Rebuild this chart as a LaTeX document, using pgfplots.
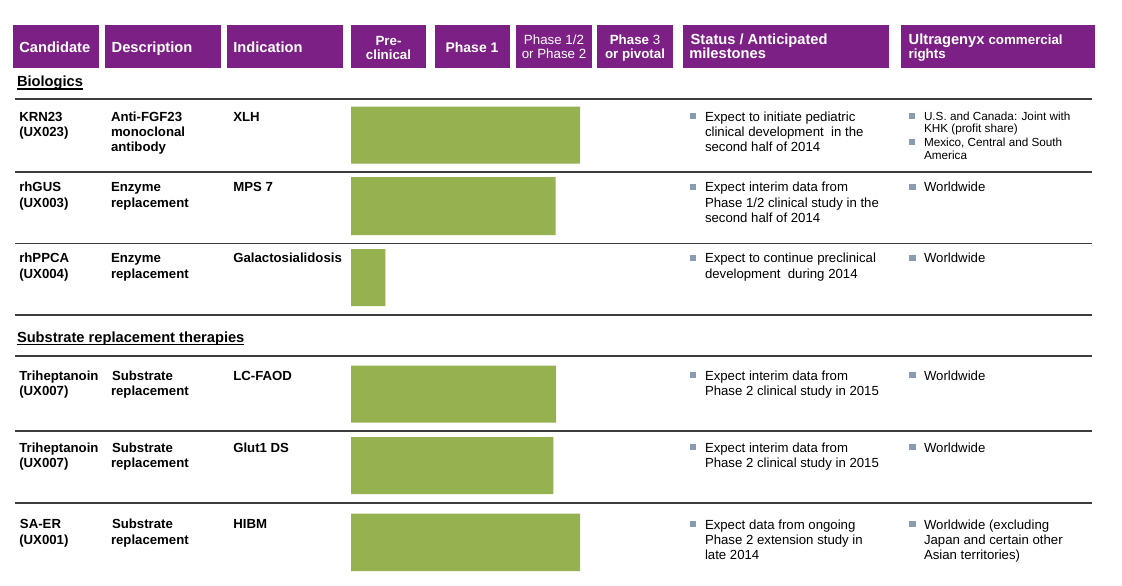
\documentclass[border=0pt]{standalone}
\usepackage{fontspec}
\setmainfont{Liberation Sans}
\usepackage{pgfplots}
\pgfplotsset{compat=1.18}
\definecolor{uxpurple}{RGB}{125,32,133}
\definecolor{uxgreen}{RGB}{150,177,80}
\definecolor{bul}{RGB}{138,156,178}
\definecolor{rulec}{RGB}{60,60,60}
\newcommand\fb{\fontsize{9.9}{11}\selectfont\bfseries}
\newcommand\fr{\fontsize{9.9}{11}\selectfont}
\newcommand\fs{\fontsize{8.8}{10}\selectfont}
\newcommand\fh{\fontsize{11}{12}\selectfont\bfseries}
\newcommand\fhs{\fontsize{10}{11}\selectfont\bfseries}
\newcommand\fhr{\fontsize{10}{11}\selectfont}
\tikzset{
  tl/.style={anchor=base west, inner sep=0pt, outer sep=0pt},
  tc/.style={anchor=base, inner sep=0pt, outer sep=0pt},
  hd/.style={text=white},
}
\begin{document}
\begin{tikzpicture}
\begin{axis}[scale only axis, width=841.5pt, height=439.5pt,
  xmin=0, xmax=1122, ymin=0, ymax=586, y dir=reverse,
  axis lines=none, ticks=none, clip=false]

\path (rel axis cs:0,0) rectangle (rel axis cs:1,1);

% header boxes
\fill[uxpurple] (axis cs:13,25.3) rectangle (axis cs:99,68.3);
\fill[uxpurple] (axis cs:105,25.3) rectangle (axis cs:221,68.3);
\fill[uxpurple] (axis cs:227,25.3) rectangle (axis cs:343,68.3);
\fill[uxpurple] (axis cs:351,25.3) rectangle (axis cs:426,68.3);
\fill[uxpurple] (axis cs:434.5,25.3) rectangle (axis cs:510,68.3);
\fill[uxpurple] (axis cs:516,25.3) rectangle (axis cs:591.7,68.3);
\fill[uxpurple] (axis cs:597,25.3) rectangle (axis cs:672.7,68.3);
\fill[uxpurple] (axis cs:683,25.3) rectangle (axis cs:889,68.3);
\fill[uxpurple] (axis cs:901.3,25.3) rectangle (axis cs:1094.7,68.3);

\node[tl,hd,font=\fh] at (axis cs:19.3,52.3) {Candidate};
\node[tl,hd,font=\fh] at (axis cs:111.7,52.3) {Description};
\node[tl,hd,font=\fh] at (axis cs:233.3,52.3) {Indication};
\node[tc,hd,font=\fhs] at (axis cs:388.5,45) {Pre-};
\node[tc,hd,font=\fhs] at (axis cs:388.5,59.3) {clinical};
\node[tc,hd,font=\fontsize{10.5}{12}\selectfont\bfseries] at (axis cs:472,52.3) {Phase 1};
\node[tc,hd,font=\fhr] at (axis cs:554,44) {Phase 1/2};
\node[tc,hd,font=\fhr] at (axis cs:554,58.3) {or Phase 2};
\node[tc,hd,font=\fhs] at (axis cs:635,44) {Phase {\mdseries 3}};
\node[tc,hd,font=\fhs] at (axis cs:635,58.3) {or pivotal};
\node[tl,hd,font=\fh] at (axis cs:690.7,44) {Status / Anticipated};
\node[tl,hd,font=\fh] at (axis cs:689.3,58.3) {milestones};
\node[tl,hd,font=\fh] at (axis cs:908.7,44) {Ultragenyx {\fhs commercial}};
\node[tl,hd,font=\fhs] at (axis cs:908.7,58.3) {rights};

% section titles
\node[tl,font=\fh] (s1) at (axis cs:17,86.7) {Biologics};
\draw[line width=0.8pt] ([yshift=-1.7pt]s1.base west) -- ([yshift=-1.7pt]s1.base east);
\node[tl,font=\fh] (s2) at (axis cs:17,342.3) {Substrate replacement therapies};
\draw[line width=0.8pt] ([yshift=-1.7pt]s2.base west) -- ([yshift=-1.7pt]s2.base east);

% rules
\pgfplotsinvokeforeach{99,172,243.5,315,356,431,503}{
  \draw[rulec, line width=1.4pt] (axis cs:15,#1) -- (axis cs:1092,#1);
}

% bars (stage reached)
\addplot[fill=uxgreen, draw=none] coordinates {(351,106.7) (580,106.7) (580,163.7) (351,163.7) (351,106.7)};
\addplot[fill=uxgreen, draw=none] coordinates {(351,177) (555.7,177) (555.7,235) (351,235) (351,177)};
\addplot[fill=uxgreen, draw=none] coordinates {(351,249) (385.3,249) (385.3,306) (351,306) (351,249)};
\addplot[fill=uxgreen, draw=none] coordinates {(351,365.7) (556,365.7) (556,422.7) (351,422.7) (351,365.7)};
\addplot[fill=uxgreen, draw=none] coordinates {(351,437) (553.3,437) (553.3,494) (351,494) (351,437)};
\addplot[fill=uxgreen, draw=none] coordinates {(351,513.5) (580,513.5) (580,571) (351,571) (351,513.5)};

% candidate column
\node[tl,font=\fb] at (axis cs:19.3,121) {KRN23};
\node[tl,font=\fb] at (axis cs:19.3,136.3) {(UX023)};
\node[tl,font=\fb] at (axis cs:19.3,191.7) {rhGUS};
\node[tl,font=\fb] at (axis cs:19.3,207) {(UX003)};
\node[tl,font=\fb] at (axis cs:19.3,262.7) {rhPPCA};
\node[tl,font=\fb] at (axis cs:19.3,278) {(UX004)};
\node[tl,font=\fb] at (axis cs:19.3,380) {Triheptanoin};
\node[tl,font=\fb] at (axis cs:19.3,395.3) {(UX007)};
\node[tl,font=\fb] at (axis cs:19.3,452) {Triheptanoin};
\node[tl,font=\fb] at (axis cs:19.3,467.3) {(UX007)};
\node[tl,font=\fb] at (axis cs:20,528.7) {SA-ER};
\node[tl,font=\fb] at (axis cs:19.3,544) {(UX001)};

% description column
\node[tl,font=\fb] at (axis cs:111,121) {Anti-FGF23};
\node[tl,font=\fb] at (axis cs:111,136.3) {monoclonal};
\node[tl,font=\fb] at (axis cs:111,151.6) {antibody};
\node[tl,font=\fb] at (axis cs:111,191.7) {Enzyme};
\node[tl,font=\fb] at (axis cs:111,207) {replacement};
\node[tl,font=\fb] at (axis cs:111,262.7) {Enzyme};
\node[tl,font=\fb] at (axis cs:111,278) {replacement};
\node[tl,font=\fb] at (axis cs:112,380) {Substrate};
\node[tl,font=\fb] at (axis cs:111,395.3) {replacement};
\node[tl,font=\fb] at (axis cs:112,452) {Substrate};
\node[tl,font=\fb] at (axis cs:111,467.3) {replacement};
\node[tl,font=\fb] at (axis cs:112,528.7) {Substrate};
\node[tl,font=\fb] at (axis cs:111,544) {replacement};

% indication column
\node[tl,font=\fb] at (axis cs:233.3,121) {XLH};
\node[tl,font=\fb] at (axis cs:233.3,191.7) {MPS 7};
\node[tl,font=\fb] at (axis cs:233.3,262.7) {Galactosialidosis};
\node[tl,font=\fb] at (axis cs:233.3,380) {LC-FAOD};
\node[tl,font=\fb] at (axis cs:233.3,452) {Glut1 DS};
\node[tl,font=\fb] at (axis cs:233.3,528.7) {HIBM};

% status column bullets
\pgfplotsinvokeforeach{121,191.7,262.7,380,452,529}{
  \fill[bul] (axis cs:690,#1-7.6) rectangle (axis cs:696.2,#1-1.6);
}
\node[tl,font=\fr] at (axis cs:705,121) {Expect to initiate pediatric};
\node[tl,font=\fr] at (axis cs:705,136.3) {clinical development\ \ in the};
\node[tl,font=\fr] at (axis cs:705,151.6) {second half of 2014};
\node[tl,font=\fr] at (axis cs:705,191.7) {Expect interim data from};
\node[tl,font=\fr] at (axis cs:705,207) {Phase 1/2 clinical study in the};
\node[tl,font=\fr] at (axis cs:705,222.3) {second half of 2014};
\node[tl,font=\fr] at (axis cs:705,262.7) {Expect to continue preclinical};
\node[tl,font=\fr] at (axis cs:705,278) {development\ \ during 2014};
\node[tl,font=\fr] at (axis cs:705,380) {Expect interim data from};
\node[tl,font=\fr] at (axis cs:705,395.3) {Phase 2 clinical study in 2015};
\node[tl,font=\fr] at (axis cs:705,452) {Expect interim data from};
\node[tl,font=\fr] at (axis cs:705,467.3) {Phase 2 clinical study in 2015};
\node[tl,font=\fr] at (axis cs:705,529) {Expect data from ongoing};
\node[tl,font=\fr] at (axis cs:705,544.3) {Phase 2 extension study in};
\node[tl,font=\fr] at (axis cs:705,559.6) {late 2014};

% rights column
\pgfplotsinvokeforeach{120,146}{
  \fill[bul] (axis cs:909.3,#1-7) rectangle (axis cs:915.3,#1-1.5);
}
\pgfplotsinvokeforeach{191.7,262.7,380,452,529}{
  \fill[bul] (axis cs:909.3,#1-7.6) rectangle (axis cs:915.5,#1-1.6);
}
\node[tl,font=\fs] at (axis cs:924,120) {U.S. and Canada: Joint with};
\node[tl,font=\fs] at (axis cs:924,132.3) {KHK (profit share)};
\node[tl,font=\fs] at (axis cs:924,146) {Mexico, Central and South};
\node[tl,font=\fs] at (axis cs:924,159) {America};
\node[tl,font=\fr] at (axis cs:924,191.7) {Worldwide};
\node[tl,font=\fr] at (axis cs:924,262.7) {Worldwide};
\node[tl,font=\fr] at (axis cs:924,380) {Worldwide};
\node[tl,font=\fr] at (axis cs:924,452) {Worldwide};
\node[tl,font=\fr] at (axis cs:924,529) {Worldwide (excluding};
\node[tl,font=\fr] at (axis cs:924,544.3) {Japan and certain other};
\node[tl,font=\fr] at (axis cs:924,559.6) {Asian territories)};

\end{axis}
\end{tikzpicture}
\end{document}
